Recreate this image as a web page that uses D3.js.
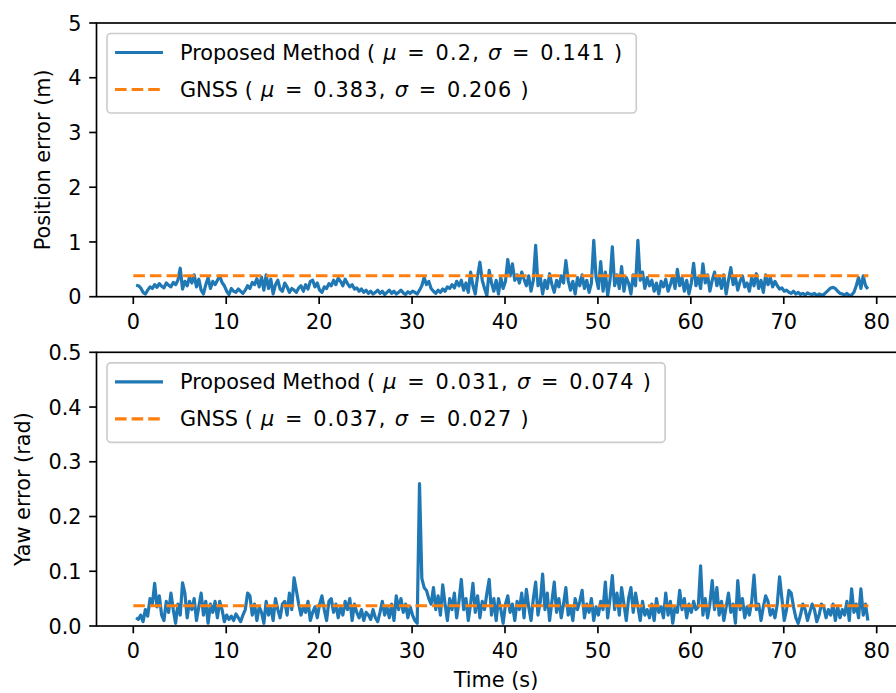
<!DOCTYPE html>
<html>
<head>
<meta charset="utf-8">
<script src="https://cdn.jsdelivr.net/npm/d3@7"></script>
<style>
  body { margin: 0; background: #fff; }
  svg { font-family: 'DejaVu Sans', sans-serif; }
</style>
</head>
<body>
<div id="chart"></div>
<script>
// sampled error series, one value every tStep seconds from tStart
const tStart = 0.3
const tStep = 0.25

const posErr = [
  0.21,0.20,0.16,0.08, 0.05,0.12,0.18,0.15, 0.22,0.17,0.24,0.19, 0.16,0.25,0.21,0.18,
  0.26,0.22,0.30,0.52, 0.14,0.28,0.20,0.36, 0.25,0.40,0.18,0.32, 0.12,0.05,0.22,0.35,
  0.15,0.28,0.22,0.30, 0.38,0.26,0.20,0.10, 0.04,0.15,0.10,0.08, 0.14,0.10,0.06,0.12,
  0.20,0.15,0.26,0.22, 0.33,0.18,0.36,0.12, 0.40,0.15,0.32,0.05, 0.22,0.30,0.14,0.10,
  0.25,0.18,0.08,0.15, 0.12,0.08,0.16,0.20, 0.10,0.22,0.14,0.28, 0.30,0.18,0.25,0.12,
  0.08,0.18,0.15,0.24, 0.20,0.30,0.22,0.34, 0.28,0.20,0.32,0.24, 0.18,0.22,0.14,0.16,
  0.10,0.14,0.08,0.12, 0.06,0.10,0.05,0.08, 0.12,0.06,0.10,0.04, 0.08,0.12,0.06,0.10,
  0.05,0.08,0.12,0.07, 0.04,0.09,0.06,0.10, 0.08,0.05,0.12,0.20, 0.35,0.22,0.28,0.15,
  0.10,0.06,0.12,0.08, 0.14,0.10,0.18,0.15, 0.22,0.16,0.28,0.20, 0.30,0.12,0.25,0.08,
  0.45,0.20,0.05,0.38, 0.63,0.30,0.15,0.02, 0.48,0.25,0.10,0.30, 0.05,0.35,0.15,0.28,
  0.68,0.38,0.60,0.30, 0.40,0.25,0.45,0.32, 0.20,0.38,0.10,0.30, 0.94,0.20,0.35,0.05,
  0.30,0.15,0.42,0.22, 0.08,0.30,0.18,0.38, 0.25,0.66,0.30,0.12, 0.28,0.05,0.35,0.20,
  0.40,0.15,0.30,0.08, 0.25,1.03,0.35,0.15, 0.64,0.10,0.45,0.02, 0.30,0.91,0.20,0.40,
  0.15,0.55,0.10,0.35, 0.25,0.05,0.40,0.20, 1.03,0.30,0.45,0.15, 0.35,0.20,0.30,0.10,
  0.25,0.05,0.28,0.18, 0.32,0.10,0.22,0.38, 0.15,0.50,0.20,0.35, 0.10,0.30,0.05,0.25,
  0.61,0.20,0.35,0.15, 0.60,0.25,0.40,0.10, 0.30,0.45,0.20,0.35, 0.15,0.40,0.05,0.30,
  0.53,0.22,0.35,0.12, 0.28,0.38,0.18,0.25, 0.10,0.35,0.20,0.42, 0.15,0.30,0.08,0.40,
  0.22,0.35,0.18,0.28, 0.20,0.14,0.16,0.10, 0.12,0.08,0.06,0.10, 0.05,0.08,0.04,0.06,
  0.03,0.07,0.05,0.04, 0.06,0.02,0.05,0.03, 0.04,0.08,0.12,0.16, 0.17,0.15,0.10,0.06,
  0.05,0.03,0.06,0.02, 0.03,0.08,0.20,0.35, 0.15,0.38,0.20,0.14
]

const yawErr = [
  0.015,0.012,0.020,0.008, 0.030,0.018,0.050,0.040, 0.078,0.035,0.055,0.020, 0.010,0.045,0.025,0.060,
  0.030,0.005,0.040,0.020, 0.079,0.060,0.015,0.045, 0.030,0.050,0.010,0.035, 0.060,0.020,0.045,0.005,
  0.040,0.025,0.045,0.015, 0.045,0.030,0.008,0.020, 0.012,0.018,0.010,0.022, 0.015,0.008,0.020,0.030,
  0.060,0.055,0.020,0.040, 0.010,0.035,0.025,0.005, 0.045,0.020,0.035,0.010, 0.050,0.030,0.015,0.040,
  0.045,0.020,0.060,0.030, 0.088,0.065,0.040,0.020, 0.035,0.025,0.045,0.010, 0.025,0.035,0.015,0.040,
  0.055,0.030,0.010,0.045, 0.050,0.025,0.040,0.015, 0.035,0.020,0.045,0.030, 0.050,0.010,0.040,0.025,
  0.015,0.030,0.010,0.025, 0.020,0.012,0.030,0.015, 0.008,0.025,0.045,0.020, 0.035,0.015,0.040,0.010,
  0.055,0.030,0.050,0.025, 0.040,0.015,0.035,0.020, 0.010,0.005,0.260,0.087, 0.070,0.065,0.050,0.040,
  0.070,0.030,0.055,0.020, 0.075,0.040,0.010,0.050, 0.030,0.060,0.015,0.045, 0.085,0.030,0.050,0.010,
  0.040,0.078,0.025,0.055, 0.015,0.045,0.030,0.060, 0.085,0.020,0.050,0.010, 0.050,0.030,0.005,0.040,
  0.055,0.025,0.040,0.010, 0.045,0.030,0.060,0.015, 0.067,0.035,0.010,0.050, 0.080,0.020,0.045,0.095,
  0.030,0.060,0.010,0.045, 0.080,0.025,0.050,0.015, 0.040,0.070,0.020,0.035, 0.010,0.050,0.030,0.045,
  0.065,0.015,0.040,0.025, 0.050,0.010,0.035,0.020, 0.045,0.030,0.080,0.015, 0.050,0.092,0.030,0.060,
  0.020,0.070,0.040,0.010, 0.050,0.070,0.025,0.060, 0.035,0.010,0.045,0.020, 0.030,0.015,0.040,0.010,
  0.050,0.025,0.035,0.015, 0.060,0.020,0.045,0.005, 0.035,0.025,0.065,0.030, 0.050,0.015,0.040,0.025,
  0.045,0.030,0.035,0.110, 0.020,0.050,0.015,0.040, 0.083,0.030,0.070,0.020, 0.045,0.010,0.035,0.060,
  0.025,0.040,0.005,0.083, 0.030,0.050,0.015,0.035, 0.020,0.045,0.093,0.030, 0.040,0.010,0.035,0.055,
  0.045,0.020,0.030,0.015, 0.040,0.090,0.050,0.010, 0.030,0.065,0.060,0.035, 0.015,0.005,0.020,0.040,
  0.030,0.010,0.025,0.040, 0.030,0.008,0.020,0.040, 0.035,0.015,0.030,0.020, 0.040,0.010,0.035,0.015,
  0.030,0.020,0.045,0.010, 0.068,0.025,0.040,0.015, 0.068,0.020,0.040,0.010
]

// GNSS is drawn as its mean over the run
const gnssSpan = [0, 79.1]
const gnssMean = [0.383, 0.037]
const gnssStd = [0.206, 0.027]
const methodMean = [0.2, 0.031]
const methodStd = [0.141, 0.074]

const xTicks = [0, 10, 20, 30, 40, 50, 60, 70, 80]
const posTicks = [0, 1, 2, 3, 4, 5]
const yawTicks = [0, 0.1, 0.2, 0.3, 0.4, 0.5]
const yLabels = ['Position error (m)', 'Yaw error (rad)']
const xLabel = 'Time (s)'

const width = 896
const height = 693
const fontSize = 20.8
const lw = 3.2
const spineW = 1.67
const tickLen = 7.3
const blue = '#1f77b4'
const orange = '#ff7f0e'

const svg = d3.select('#chart')
  .append('svg')
    .attr('width', width)
    .attr('height', height)
    .style('font-size', fontSize + 'px')

const x = d3.scaleLinear()
  .domain([-3.96, 83.11])
  .range([96.5, 905.6])

const panels = [
  {series: posErr, top: 23, bottom: 296.7, domain: [0, 5], ticks: posTicks, fmt: d3.format('d'), labelX: 50},
  {series: yawErr, top: 352.3, bottom: 626, domain: [0, 0.5], ticks: yawTicks, fmt: d3.format('.1f'), labelX: 30}
]

// legend label; the math part is set a bit looser, like mathtext
const sp = 6.6
const muText = (sel, name, mu, sd) => {
  sel.append('tspan').text(`${name} (`)
  const m = sel.append('tspan').attr('letter-spacing', '1.2px')
  const parts = [
    ['μ', sp + 1.5, true],
    ['=', sp + 3, false],
    [`${mu},`, sp + 3, false],
    ['σ', sp + 1.5, true],
    ['=', sp + 3, false],
    [`${sd}`, sp + 3, false],
    [')', sp + 1.5, false]
  ]
  parts.forEach(([s, dx, it]) => {
    m.append('tspan')
      .attr('dx', dx)
      .attr('font-style', it ? 'italic' : null)
      .text(s)
  })
}

panels.forEach((p, k) => {
  const y = d3.scaleLinear().domain(p.domain).range([p.bottom, p.top])
  const g = svg.append('g')

  const line = d3.line()
    .x((d, i) => x(tStart + i * tStep))
    .y(d => y(d))

  g.append('path')
    .datum(p.series)
    .attr('d', line)
    .attr('fill', 'none')
    .attr('stroke', blue)
    .attr('stroke-width', lw)
    .attr('stroke-linejoin', 'round')

  g.append('path')
    .datum(gnssSpan)
    .attr('d', d3.line().x(d => x(d)).y(() => y(gnssMean[k])))
    .attr('fill', 'none')
    .attr('stroke', orange)
    .attr('stroke-width', lw)
    .attr('stroke-dasharray', '11.6,5')

  // spines
  g.append('rect')
    .attr('x', x.range()[0])
    .attr('y', p.top)
    .attr('width', x.range()[1] - x.range()[0])
    .attr('height', p.bottom - p.top)
    .attr('fill', 'none')
    .attr('stroke', '#000')
    .attr('stroke-width', spineW)

  const xt = g.selectAll('.xtick')
    .data(xTicks)
    .enter()
    .append('g')
      .attr('transform', d => `translate(${x(d)},${p.bottom})`)
  xt.append('line')
    .attr('y2', tickLen)
    .attr('stroke', '#000')
    .attr('stroke-width', spineW)
  xt.append('text')
    .attr('y', 32)
    .attr('text-anchor', 'middle')
    .text(d => d)

  const yt = g.selectAll('.ytick')
    .data(p.ticks)
    .enter()
    .append('g')
      .attr('transform', d => `translate(${x.range()[0]},${y(d)})`)
  yt.append('line')
    .attr('x2', -tickLen)
    .attr('stroke', '#000')
    .attr('stroke-width', spineW)
  yt.append('text')
    .attr('x', -15)
    .attr('y', 7.6)
    .attr('text-anchor', 'end')
    .text(d => p.fmt(d))

  g.append('text')
    .attr('transform', `translate(${p.labelX},${(p.top + p.bottom) / 2}) rotate(-90)`)
    .attr('text-anchor', 'middle')
    .text(yLabels[k])

  // legend
  const lg = g.append('g').attr('transform', `translate(107,${p.top + 10.5})`)
  const box = lg.append('rect')
    .attr('height', 79.5)
    .attr('rx', 4)
    .attr('fill', '#fff')
    .attr('fill-opacity', 0.8)
    .attr('stroke', '#cccccc')
    .attr('stroke-width', 1.67)
  const rows = [
    {name: 'Proposed Method', mu: methodMean[k], sd: methodStd[k], color: blue, dash: null},
    {name: 'GNSS', mu: gnssMean[k], sd: gnssStd[k], color: orange, dash: '11.6,5'}
  ]
  let maxW = 0
  rows.forEach((r, i) => {
    const cy = 19 + i * 37
    lg.append('line')
      .attr('x1', 8).attr('x2', 56)
      .attr('y1', cy).attr('y2', cy)
      .attr('stroke', r.color)
      .attr('stroke-width', lw)
      .attr('stroke-dasharray', r.dash)
    const t = lg.append('text')
      .attr('x', 73)
      .attr('y', cy + 7.5)
    muText(t, r.name, r.mu, r.sd)
    maxW = Math.max(maxW, t.node().getBBox().width)
  })
  box.attr('width', 73 + maxW + 13)
})

svg.append('text')
  .attr('x', 496)
  .attr('y', 687)
  .attr('text-anchor', 'middle')
  .text(xLabel)
</script>
</body>
</html>
